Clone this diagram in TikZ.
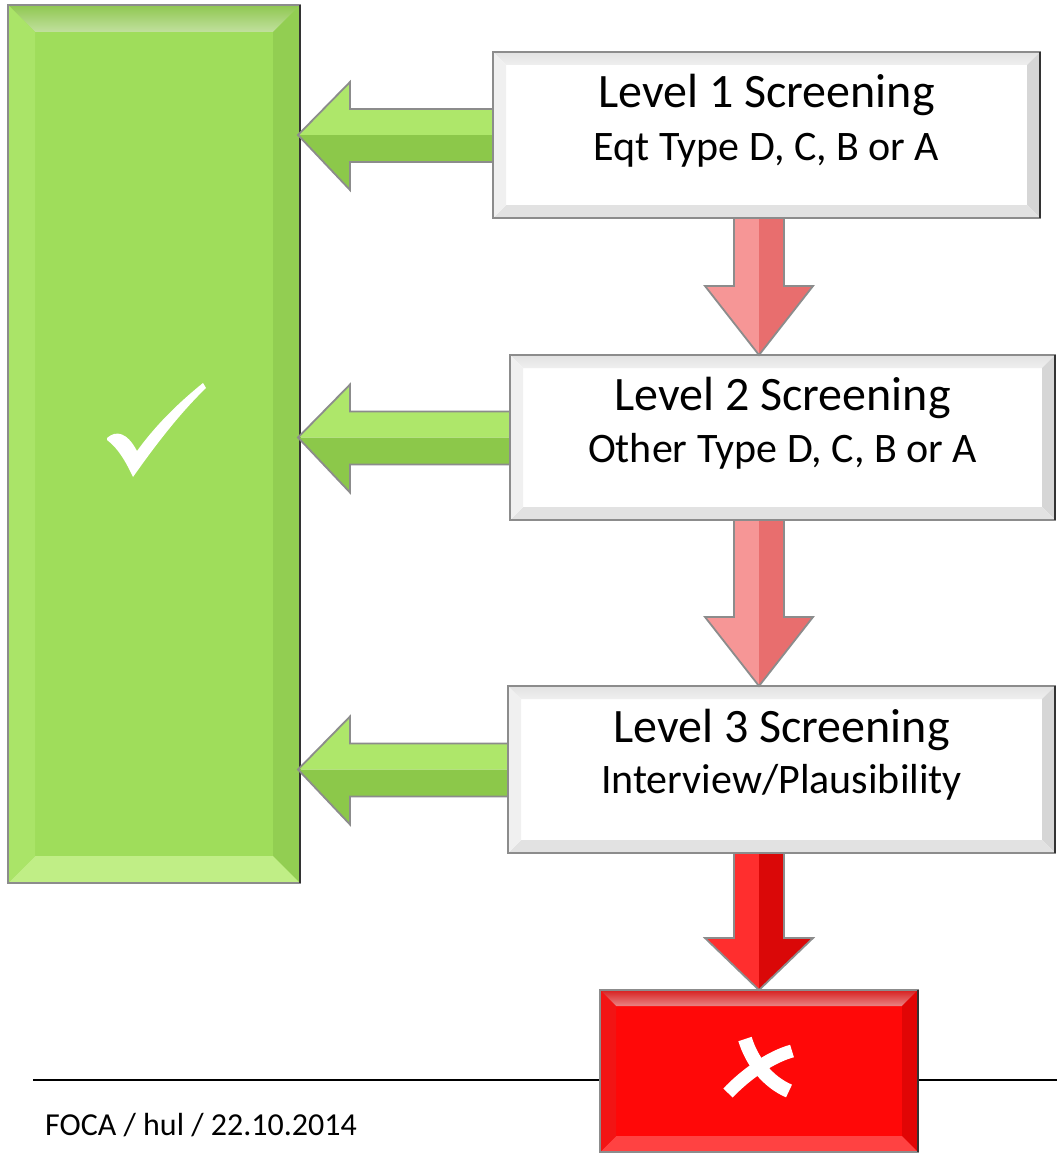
\documentclass[tikz,border=0pt]{standalone}
\usepackage{fontspec}
\setmainfont{Carlito}
\usetikzlibrary{calc}
\definecolor{gbase}{RGB}{159,221,91}
\definecolor{gtop}{RGB}{143,199,80}
\definecolor{gright}{RGB}{146,206,82}
\definecolor{gbottom}{RGB}{192,238,134}
\definecolor{gleft}{RGB}{170,228,104}
\definecolor{wtop}{RGB}{226,226,226}
\definecolor{wright}{RGB}{214,214,214}
\definecolor{wbottom}{RGB}{226,226,226}
\definecolor{wleft}{RGB}{240,240,240}
\definecolor{rbase}{RGB}{255,8,8}
\definecolor{rtop}{RGB}{215,32,32}
\definecolor{rright}{RGB}{225,5,5}
\definecolor{rbottom}{RGB}{255,66,66}
\definecolor{rleft}{RGB}{242,20,20}
\definecolor{galight}{RGB}{174,231,106}
\definecolor{gadark}{RGB}{140,200,74}
\definecolor{palight}{RGB}{246,150,150}
\definecolor{padark}{RGB}{232,110,110}
\definecolor{ralight}{RGB}{255,46,46}
\definecolor{radark}{RGB}{218,8,8}
\definecolor{edgegray}{RGB}{140,140,140}
\newcommand\bevelon[6]{%
  \shade[top color=#3,bottom color=#3!55!white] (#1.north west) -- (#1.north east) -- ([xshift=-#2pt,yshift=-#2pt]#1.north east) -- ([xshift=#2pt,yshift=-#2pt]#1.north west) -- cycle;
  \fill[#4] (#1.north east) -- (#1.south east) -- ([xshift=-#2pt,yshift=#2pt]#1.south east) -- ([xshift=-#2pt,yshift=-#2pt]#1.north east) -- cycle;
  \fill[#5] (#1.south east) -- (#1.south west) -- ([xshift=#2pt,yshift=#2pt]#1.south west) -- ([xshift=-#2pt,yshift=#2pt]#1.south east) -- cycle;
  \fill[#6] (#1.south west) -- (#1.north west) -- ([xshift=#2pt,yshift=-#2pt]#1.north west) -- ([xshift=#2pt,yshift=#2pt]#1.south west) -- cycle;
  \draw[edgegray,line width=1.6pt] (#1.south west) rectangle (#1.north east);
  \draw[black!80,line width=2.4pt] (#1.north east) -- (#1.south east);
}
\newcommand\garrow[1]{%
  \fill[galight] let \p1=(#1.west), \p2=(g.east) in (\x2-2pt,\y1) -- (\x2+50pt,\y1+53pt) -- (\x2+50pt,\y1+26pt) -- (\x1,\y1+26pt) -- (\x1,\y1) -- cycle;
  \fill[gadark] let \p1=(#1.west), \p2=(g.east) in (\x2-2pt,\y1) -- (\x1,\y1) -- (\x1,\y1-27pt) -- (\x2+50pt,\y1-27pt) -- (\x2+50pt,\y1-55pt) -- cycle;
  \draw[edgegray,line width=1.8pt,line join=miter] let \p1=(#1.west), \p2=(g.east) in (\x2-2pt,\y1) -- (\x2+50pt,\y1+53pt) -- (\x2+50pt,\y1+26pt) -- (\x1,\y1+26pt) -- (\x1,\y1-27pt) -- (\x2+50pt,\y1-27pt) -- (\x2+50pt,\y1-55pt) -- cycle;
}
\newcommand\dnarrow[5]{%
  \fill[#4] let \p1=(#1.south), \p2=(#2.north), \p3=(rb.north) in (\x3-25pt,\y1) -- (\x3,\y1) -- (\x3,\y2) -- (\x3-54pt,\y2+#3pt) -- (\x3-25pt,\y2+#3pt) -- cycle;
  \fill[#5] let \p1=(#1.south), \p2=(#2.north), \p3=(rb.north) in (\x3,\y1) -- (\x3+25pt,\y1) -- (\x3+25pt,\y2+#3pt) -- (\x3+54pt,\y2+#3pt) -- (\x3,\y2) -- cycle;
  \draw[edgegray,line width=1.8pt] let \p1=(#1.south), \p2=(#2.north), \p3=(rb.north) in (\x3-25pt,\y1) -- (\x3+25pt,\y1) -- (\x3+25pt,\y2+#3pt) -- (\x3+54pt,\y2+#3pt) -- (\x3,\y2) -- (\x3-54pt,\y2+#3pt) -- (\x3-25pt,\y2+#3pt) -- cycle;
}
\begin{document}
\begin{tikzpicture}[x=1pt,y=-1pt,
  panel/.style n args={3}{inner sep=0pt,outer sep=0pt,minimum width=#1pt,minimum height=#2pt,fill=#3},
  titletext/.style={anchor=base,inner sep=0pt,font=\fontsize{48}{56}\selectfont},
  subtext/.style={anchor=base,inner sep=0pt,font=\fontsize{42}{50}\selectfont}]
\useasboundingbox (0,0) rectangle (1057,1153);
\fill[white] (0,0) rectangle (1057,1153);
% footer rule
\coordinate (rulel) at (33,1080);
\coordinate (ruler) at (1057,1080);
\draw[black,line width=1.6pt] (rulel) -- (ruler);
% green box
\node[panel={292}{878}{gbase}] (g) at (154,444) {};
\bevelon{g}{27}{gtop}{gright}{gbottom}{gleft}
% white boxes
\node[panel={547}{166}{white}] (l1) at (766.5,135) {};
\bevelon{l1}{13}{wtop}{wright}{wbottom}{wleft}
\node[panel={545}{165}{white}] (l2) at (782.5,437.5) {};
\bevelon{l2}{13}{wtop}{wright}{wbottom}{wleft}
\node[panel={547}{167}{white}] (l3) at (781.5,769.5) {};
\bevelon{l3}{13}{wtop}{wright}{wbottom}{wleft}
% red box
\node[panel={318}{162}{rbase}] (rb) at (759,1071) {};
\bevelon{rb}{16}{rtop}{rright}{rbottom}{rleft}
% texts
\node[titletext] (l1a) at (766.5,108) {Level 1 Screening};
\node[subtext] (l1b) at (766.5,160) {Eqt Type D, C, B or A};
\node[titletext] (l2a) at (782.5,410) {Level 2 Screening};
\node[subtext] (l2b) at (782.5,462) {Other Type D, C, B or A};
\node[titletext] (l3a) at (781.5,742) {Level 3 Screening};
\node[subtext] (l3b) at (781.5,793) {Interview/Plausibility};
\node[anchor=base west,inner sep=0pt,font=\fontsize{32}{38}\selectfont] (ft) at (45,1135) {FOCA / hul / 22.10.2014};
% arrows
\garrow{l1}
\garrow{l2}
\garrow{l3}
\dnarrow{l1}{l2}{69}{palight}{padark}
\dnarrow{l2}{l3}{69}{palight}{padark}
\dnarrow{l3}{rb}{52}{ralight}{radark}
% check mark
\fill[white] (107,438) .. controls (116,430) and (127,432) .. (137,451) .. controls (158,422) and (182,400) .. (203,383) -- (206,388) .. controls (178,415) and (152,450) .. (133,477) .. controls (126,462) and (118,448) .. (107,440) -- cycle;
% cross
\draw[white,line width=14pt] (745,1039) .. controls (752,1062) and (768,1082) .. (789,1091);
\draw[white,line width=13pt] (792,1051) .. controls (770,1057) and (745,1075) .. (728,1093);
\end{tikzpicture}
\end{document}
